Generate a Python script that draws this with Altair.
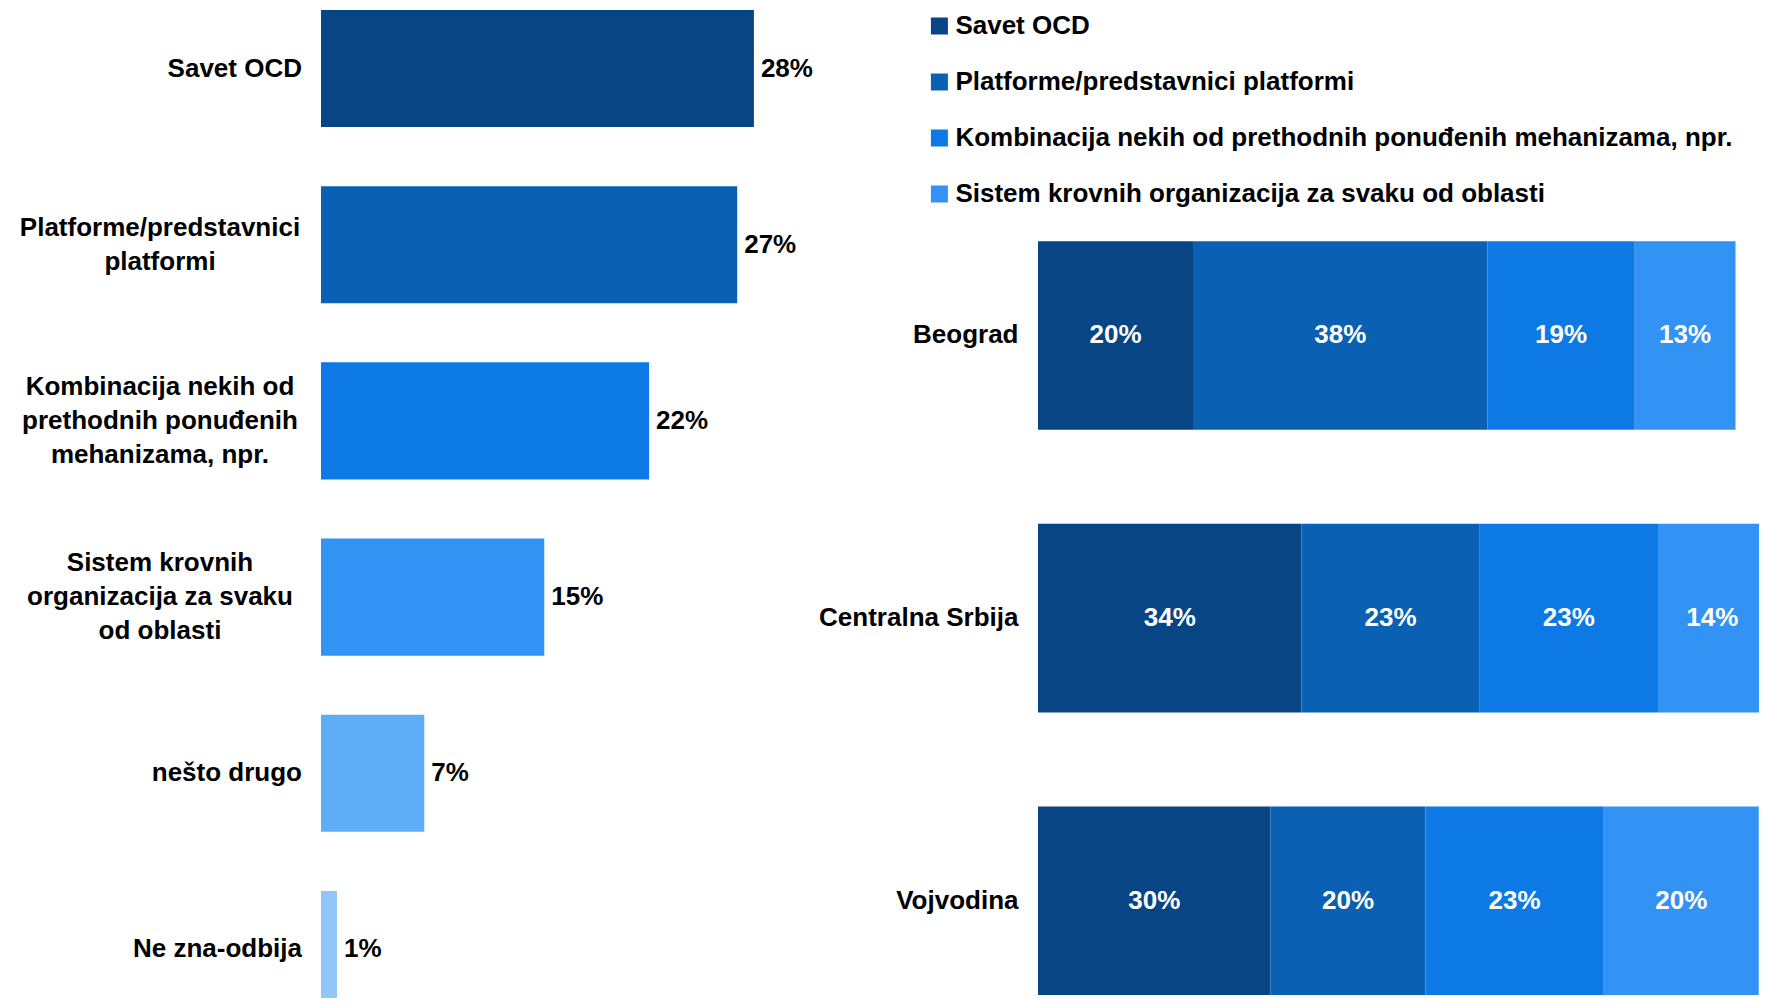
import altair as alt
import pandas as pd

FONT = "Liberation Sans, Arial, Helvetica, sans-serif"
FS = 26
LH = 34

# ---- left chart data ----
left_cats = [
    "Savet OCD",
    "Platforme/predstavnici platformi",
    "Kombinacija nekih od prethodnih ponuđenih mehanizama, npr.",
    "Sistem krovnih organizacija za svaku od oblasti",
    "nešto drugo",
    "Ne zna-odbija",
]
left_labels = [
    "Savet OCD",
    "Platforme/predstavnici\nplatformi",
    "Kombinacija nekih od\nprethodnih ponuđenih\nmehanizama, npr.",
    "Sistem krovnih\norganizacija za svaku\nod oblasti",
    "nešto drugo",
    "Ne zna-odbija",
]
left_values = [28.5, 27.4, 21.6, 14.7, 6.8, 1.05]
left_text = ["28%", "27%", "22%", "15%", "7%", "1%"]
left_colors = ["#084584", "#0A60B3", "#0C79E4", "#3393F5", "#5EADF7", "#93C6F8"]

# ---- right chart data ----
regions = ["Beograd", "Centralna Srbija", "Vojvodina"]
series = left_cats[:4]
savet = [20, 34, 30]
platforme = [38, 23, 20]
kombinacija = [19, 23, 23]
sistem = [13, 14, 20]

ldf = pd.DataFrame({
    "cat": left_cats,
    "label": left_labels,
    "val": left_values,
    "txt": left_text,
    "nlines": [s.count("\n") + 1 for s in left_labels],
})

rows = []
for si, (name, vals) in enumerate(zip(series, [savet, platforme, kombinacija, sistem])):
    for r, v in zip(regions, vals):
        rows.append({"region": r, "category": name, "value": v, "order": si})
rdf = pd.DataFrame(rows)

# ---- left chart ----
lbase = alt.Chart(ldf)
ly = alt.Y("cat:N", sort=left_cats,
           scale=alt.Scale(range=[0, 1002], paddingInner=0.335, paddingOuter=0.011),
           axis=None)
lx = alt.X("val:Q", scale=alt.Scale(domain=[0, 31.6], nice=False), axis=None)

txt_style = dict(font=FONT, fontSize=FS, fontWeight="bold", color="black", baseline="middle")

lbars = lbase.mark_bar(clip=True).encode(
    x=lx, y=ly,
    color=alt.Color("cat:N", scale=alt.Scale(domain=left_cats, range=left_colors), legend=None),
)
lvals = lbase.mark_text(align="left", dx=7, **txt_style).encode(x=lx, y=ly, text="txt:N")
l2 = lbase.transform_filter("datum.nlines == 2").mark_text(
    align="center", lineBreak="\n", lineHeight=LH, dy=-LH / 2, **txt_style
).encode(x=alt.value(-161), y=ly, text="label:N")
l3 = lbase.transform_filter("datum.nlines == 3").mark_text(
    align="center", lineBreak="\n", lineHeight=LH, dy=-LH, **txt_style
).encode(x=alt.value(-161), y=ly, text="label:N")
l1 = lbase.transform_filter("datum.nlines == 1").mark_text(
    align="right", **txt_style
).encode(x=alt.value(-19), y=ly, text="label:N")

left = alt.layer(lbars, lvals, l1, l2, l3).properties(width=480, height=990)

# ---- right chart ----
rbase = alt.Chart(rdf).transform_stack(
    stack="value", as_=["x0", "x1"], groupby=["region"],
    sort=[alt.SortField("order", order="ascending")],
).transform_calculate(mid="(datum.x0 + datum.x1) / 2", lbl="datum.value + '%'")

ry = alt.Y("region:N", sort=regions,
           scale=alt.Scale(range=[0, 1002], paddingInner=0.333, paddingOuter=0.4387, align=0.94),
           axis=alt.Axis(title=None, ticks=False, domain=False, grid=False,
                         labelFont=FONT, labelFontSize=FS, labelFontWeight="bold",
                         labelColor="black", labelPadding=20, labelLimit=400))
rscale = alt.Scale(domain=[0, 94], range=[0, 728.5], nice=False)

rbars = rbase.mark_bar(clip=True).encode(
    x=alt.X("x0:Q", scale=rscale, axis=None),
    x2="x1:Q",
    y=ry,
    color=alt.Color("category:N",
                    scale=alt.Scale(domain=series, range=left_colors[:4]),
                    legend=alt.Legend(title=None, orient="none", legendX=-111.6, legendY=5,
                                      padding=0, direction="vertical", symbolType="square",
                                      symbolSize=289, symbolStrokeWidth=0,
                                      labelFont=FONT, labelFontSize=FS,
                                      labelFontWeight="bold", labelColor="black",
                                      labelLimit=1200, rowPadding=30, labelOffset=3)),
)
rtext = rbase.mark_text(align="center", baseline="middle", font=FONT, fontSize=FS,
                        fontWeight="bold", color="white").encode(
    x=alt.X("mid:Q", scale=rscale, axis=None), y=ry, text="lbl:N")

right = alt.layer(rbars, rtext).properties(width=721, height=990)

chart = alt.hconcat(left, right, spacing=237, bounds="flush").resolve_scale(
    color="independent"
).properties(
    padding={"left": 11, "top": 0, "right": 0, "bottom": 0},
    background="white",
).configure_view(stroke=None)

chart.save("out.html", embed_options={"renderer": "svg", "actions": False})
